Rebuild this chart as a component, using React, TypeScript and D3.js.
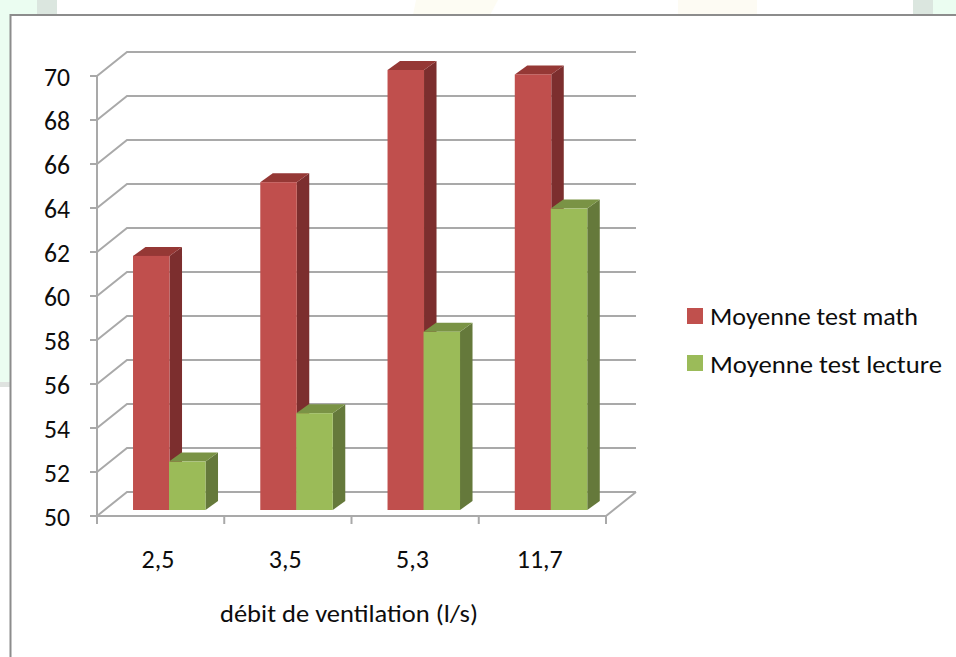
import * as d3 from 'd3';

const categories = ['2,5', '3,5', '5,3', '11,7'];
const mathValues = [61.55, 64.9, 70, 69.8];
const lectureValues = [52.2, 54.4, 58.1, 63.7];
const yTicks = d3.range(50, 71, 2);
const legendLabels = ['Moyenne test math', 'Moyenne test lecture'];
const legendWidths = [208, 232];
const axisTitle = 'débit de ventilation (l/s)';

const width = 956;
const height = 657;
const font = 'Carlito, Lato, "Noto Sans", sans-serif';

const y = d3.scaleLinear().domain([50, 70]).range([516, 76]);
const x = d3.scaleBand().domain(categories).range([97, 606]);

const gridColor = '#a9a9a9';
const depthX = 30;
const depthY = -24;

const red = { front: '#c0504d', top: '#953735', side: '#7b2f2d' };
const green = { front: '#9bbb59', top: '#7a9345', side: '#65793a' };

function Bar3D({ x0, w, value, c }: { x0: number; w: number; value: number; c: typeof red }) {
  const lift = -6;
  const dx = 12.5;
  const dy = -9;
  const top = y(value) + lift;
  const base = y(50) + lift;
  const x1 = x0 + w;
  return (
    <g>
      <polygon points={`${x1},${top} ${x1 + dx},${top + dy} ${x1 + dx},${base + dy} ${x1},${base}`} fill={c.side} />
      <polygon points={`${x0},${top} ${x0 + dx},${top + dy} ${x1 + dx},${top + dy} ${x1},${top}`} fill={c.top} />
      <rect x={x0} y={top} width={w} height={base - top} fill={c.front} />
    </g>
  );
}

export default function App() {
  const barW = 36.5;
  const offset = 36;

  return (
    <svg
      width={width}
      height={height}
      style={{ position: 'fixed', left: 0, top: 0, display: 'block', background: '#ffffff' }}
    >
      <defs>
        <filter id="soft" x="-5%" y="-5%" width="110%" height="110%">
          <feGaussianBlur stdDeviation="0.5" />
        </filter>
      </defs>

      {/* slide behind the chart */}
      <rect x={0} y={0} width={10} height={382} fill="#ebfdf1" />
      <rect x={0} y={382} width={10} height={5} fill="#dfe3e0" />
      <rect x={10} y={0} width={27} height={15} fill="#ebfdf1" />
      <rect x={37} y={0} width={20} height={15} fill="#dbe6df" />
      <rect x={913} y={0} width={20} height={15} fill="#dbe6df" />
      <rect x={933} y={0} width={23} height={15} fill="#ebfdf1" />
      <polygon points="413,15 416,0 498,0 490,15" fill="#fdfcf3" />
      <rect x={678} y={0} width={79} height={15} fill="#fdfbf3" />

      <rect x={10.5} y={15} width={970} height={680} fill="#ffffff" stroke="#8c8c8c" strokeWidth={2} />

      <g filter="url(#soft)">
        {/* floor and gridlines */}
        <g fill="none" stroke={gridColor} strokeWidth={2}>
          {yTicks.map((t) => (
            <polyline
              key={t}
              points={`${x.range()[0]},${y(t)} ${x.range()[0] + depthX},${y(t) + depthY} ${x.range()[1] + depthX},${y(t) + depthY}`}
            />
          ))}
          <line x1={x.range()[1]} y1={y(50)} x2={x.range()[1] + depthX} y2={y(50) + depthY} />
          <line x1={x.range()[0]} y1={y(70)} x2={x.range()[0]} y2={y(50)} />
          <line x1={x.range()[0]} y1={y(50)} x2={x.range()[1]} y2={y(50)} />
          {yTicks.map((t) => (
            <line key={t} x1={x.range()[0] - 7} y1={y(t)} x2={x.range()[0]} y2={y(t)} />
          ))}
          {[...categories.map((c) => x(c) as number), x.range()[1]].map((p) => (
            <line key={p} x1={p} y1={y(50)} x2={p} y2={y(50) + 8} />
          ))}
        </g>

        {/* bars */}
        {categories.map((c, i) => {
          const bx = (x(c) as number) + x.bandwidth() / 2 - 27.6;
          return (
            <g key={c}>
              <Bar3D x0={bx} w={barW} value={mathValues[i]} c={red} />
              <Bar3D x0={bx + offset} w={barW} value={lectureValues[i]} c={green} />
            </g>
          );
        })}
      </g>

      {/* tick labels */}
      <g fontFamily={font} fontSize={27} fill="#0d0d0d">
        {yTicks.map((t) => (
          <text key={t} x={70} y={y(t) + 10} textAnchor="end" textLength={26} lengthAdjust="spacingAndGlyphs">
            {t}
          </text>
        ))}
        {categories.map((c) => (
          <text key={c} x={(x(c) as number) + x.bandwidth() / 2 - 2.6} y={568} fontSize={26} textAnchor="middle">
            {c}
          </text>
        ))}
        <text x={349} y={622} fontSize={25} textAnchor="middle" textLength={258} lengthAdjust="spacingAndGlyphs">
          {axisTitle}
        </text>
      </g>

      {/* legend */}
      <g fontFamily={font} fontSize={25} fill="#0d0d0d">
        {legendLabels.map((label, i) => (
          <g key={label}>
            <rect x={687} y={308 + i * 47} width={16} height={16} fill={i === 0 ? red.front : green.front} />
            <text x={710} y={325 + i * 48} textLength={legendWidths[i]} lengthAdjust="spacingAndGlyphs">
              {label}
            </text>
          </g>
        ))}
      </g>
    </svg>
  );
}
